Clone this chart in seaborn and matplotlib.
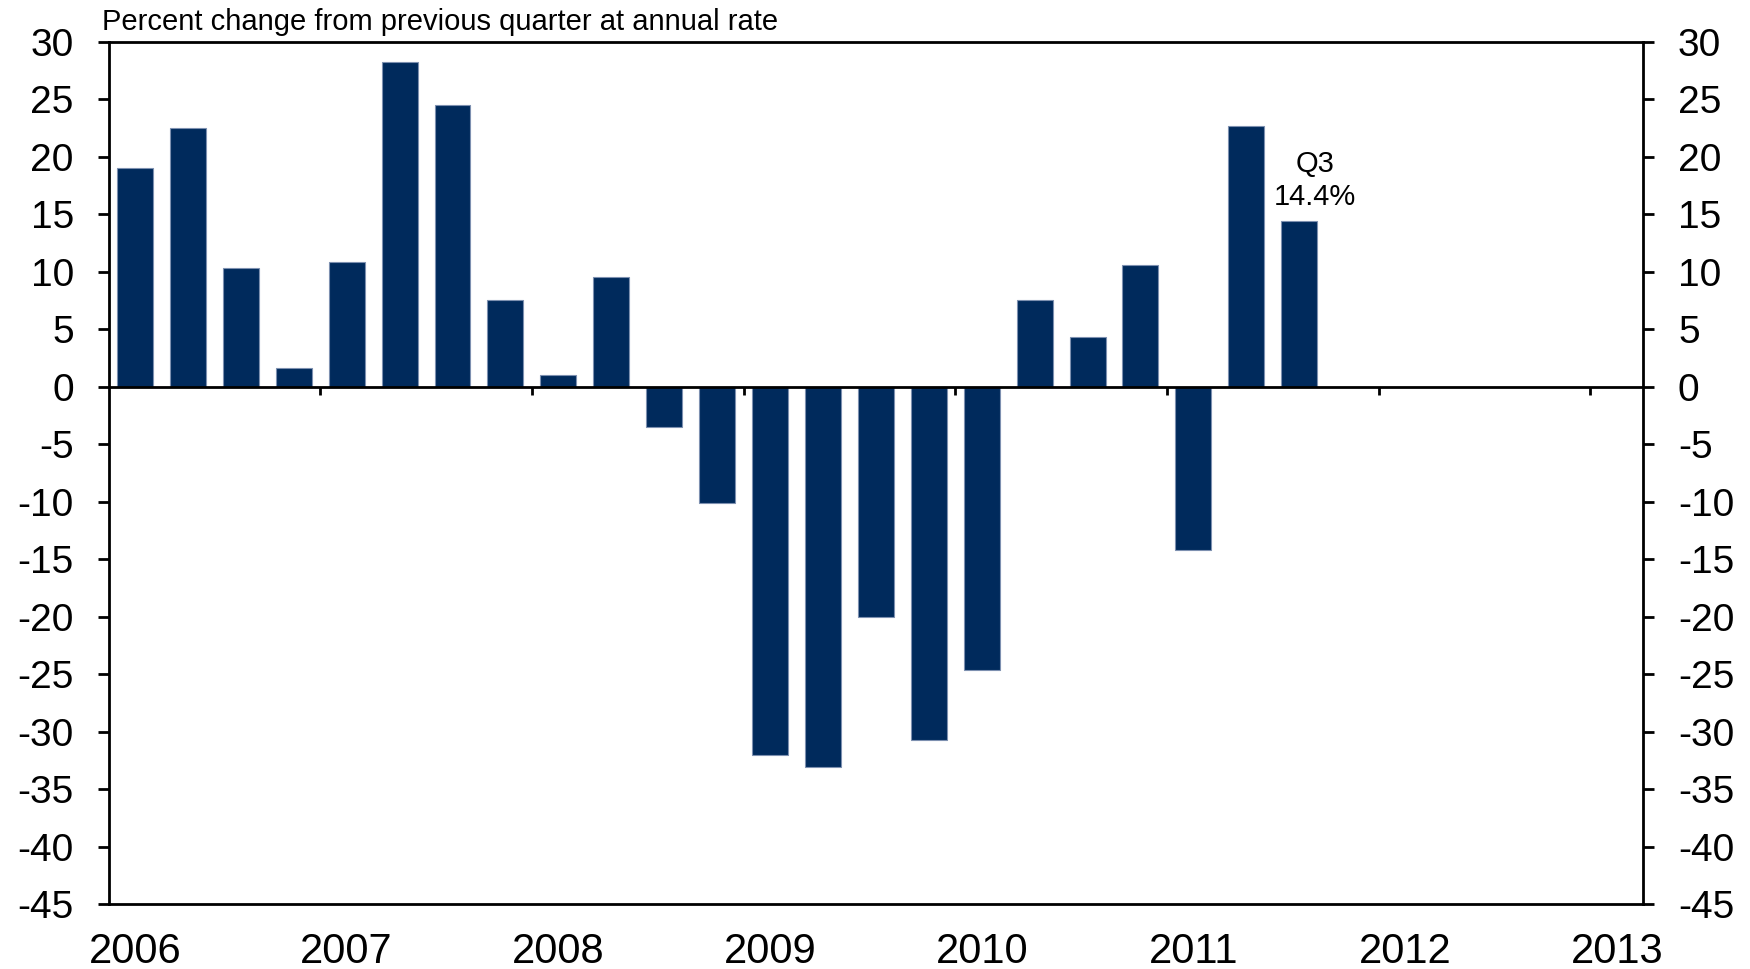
import matplotlib
matplotlib.use("Agg")
import matplotlib.pyplot as plt
import seaborn as sns
import pandas as pd

# quarterly growth, percent change from previous quarter at annual rate
quarters = ["2006Q1", "2006Q2", "2006Q3", "2006Q4",
            "2007Q1", "2007Q2", "2007Q3", "2007Q4",
            "2008Q1", "2008Q2", "2008Q3", "2008Q4",
            "2009Q1", "2009Q2", "2009Q3", "2009Q4",
            "2010Q1", "2010Q2", "2010Q3", "2010Q4",
            "2011Q1", "2011Q2", "2011Q3"]
growth = [19.0, 22.5, 10.3, 1.6,
          10.8, 28.2, 24.5, 7.5,
          1.0, 9.5, -3.5, -10.1,
          -32.0, -33.1, -20.0, -30.7,
          -24.6, 7.5, 4.3, 10.6,
          -14.2, 22.7, 14.4]
years = [2006, 2007, 2008, 2009, 2010, 2011, 2012, 2013]
note = "Q3\n14.4%"

# the axis runs from 2006Q1 to 2013Q1, empty quarters included
axis_quarters = [f"{y}Q{q}" for y in years[:-1] for q in range(1, 5)] + [f"{years[-1]}Q1"]

df = pd.DataFrame({"quarter": quarters, "growth": growth})

sns.set_style("white")
plt.rcParams["font.family"] = ["Liberation Sans", "DejaVu Sans"]
plt.rcParams["axes.unicode_minus"] = False

navy = "#002A5C"

fig = plt.figure(figsize=(17.5, 9.69), dpi=100)
ax = fig.add_axes([0.062, 0.067, 0.877, 0.890])

sns.barplot(data=df, x="quarter", y="growth", order=axis_quarters, color=navy,
            saturation=1, width=0.68, edgecolor="#7d90b0", linewidth=0.8, ax=ax)

ax.set_xlim(-0.5, len(axis_quarters) - 0.5)
ax.set_ylim(-45, 30)
ax.set_yticks(range(-45, 31, 5))

ax.axhline(0, color="black", lw=2, zorder=3)
bounds = [axis_quarters.index(f"{y}Q1") - 0.5 for y in years[1:]]
ax.vlines(bounds, -0.7, 0, color="black", lw=2, zorder=3)

ax.set_xticks([axis_quarters.index(f"{y}Q1") for y in years])
ax.set_xticklabels([str(y) for y in years])
ax.set_xlabel("")
ax.set_ylabel("")

for s in ax.spines.values():
    s.set_visible(True)
    s.set_color("black")
    s.set_linewidth(2)

ax.tick_params(axis="y", which="both", left=True, right=True, labelleft=True, labelright=True,
               direction="out", length=8, width=2, pad=17, labelsize=28, colors="black")
ax.tick_params(axis="x", length=0, pad=20, labelsize=30, colors="black")

last = quarters.index("2011Q3")
ax.text(last + 0.3, growth[last] + 0.9, note, ha="center", va="bottom",
        fontsize=21, linespacing=1.2, color="black")

ax.text(-0.004, 1.013, "Percent change from previous quarter at annual rate",
        transform=ax.transAxes, ha="left", va="baseline", fontsize=21, color="black")

fig.savefig("out.png", dpi=100)
